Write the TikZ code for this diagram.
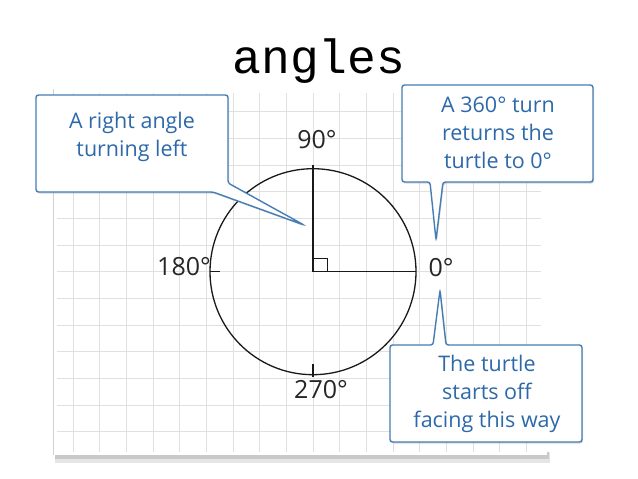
\documentclass[tikz,border=0pt]{standalone}
\usepackage{fontspec}
\setmainfont{Open Sans}
\newfontfamily\titlefont{Liberation Mono}
\newfontfamily\handfont{Open Sans}
\usetikzlibrary{shadows}
\definecolor{calloutblue}{RGB}{70,125,180}
\definecolor{textblue}{RGB}{45,105,170}
\definecolor{gridgray}{RGB}{224,224,224}
\tikzset{
  callout/.style={fill=white, draw=calloutblue, line width=1.4pt, rounded corners=2.5pt,
    drop shadow={opacity=0.3, shadow xshift=1pt, shadow yshift=-1.5pt}},
  callouttext/.style={text=textblue, align=center, font=\handfont\fontsize{21.5}{28}\selectfont},
  degree/.style={font=\handfont\fontsize{25}{28}\selectfont, text=black!85, inner sep=0pt},
  pen/.style={line width=1.3pt, black!90},
  gridline/.style={gridgray, line width=0.7pt},
}
\begin{document}
\begin{tikzpicture}[x=1pt,y=-1pt]
\useasboundingbox (0,0) rectangle (638,479);
\fill[white] (0,0) rectangle (638,479);
% title
\node[font=\titlefont\fontsize{48}{48}\selectfont, anchor=base] (title) at (319,73) {angles};
% paper shadow and sheet
\fill[black, opacity=0.10] (55,452) rectangle (550,463);
\fill[black, opacity=0.12] (55,452) rectangle (549,459);
\fill[white] (53,89) rectangle (547,455);
\draw[black!18, line width=0.8pt] (53.5,89) -- (53.5,455);
\foreach \k in {-9,...,8} {
  \draw[gridline] ({313+26.667*\k},93) -- ({313+26.667*\k},452);
}
\foreach \k in {-6,...,6} {
  \draw[gridline] (57,{271.7+26.667*\k}) -- (541,{271.7+26.667*\k});
}
% circle drawing
\coordinate (c) at (313,271.7);
\coordinate (top) at (313,165);
\coordinate (right) at (416,271.7);
\draw[pen] (c) circle[radius=103];
\draw[pen] (c) -- (top);
\draw[pen] (c) -- (right);
\draw[pen, line width=1pt] (313,258) rectangle (327,271.7);
\coordinate (tl1) at (210,271.7);
\coordinate (tl2) at (220,271.7);
\draw[pen] (tl1) -- (tl2);
\coordinate (tb1) at (313,364);
\coordinate (tb2) at (313,377);
\draw[pen] (tb1) -- (tb2);
% degree labels
\node[degree] (d90) at (317,140) {90°};
\node[degree] (d180) at (184,267) {180°};
\node[degree] (d0) at (441,268) {0°};
\node[degree] (d270) at (321,390) {270°};
% callouts
\draw[callout] (36,95) -- (228,95) -- (228,183) -- (304,225) -- (213,192) -- (36,192) -- cycle;
\node[callouttext] (c1) at (132,137) {A right angle\\turning left};
\draw[callout] (402,85) -- (593,85) -- (593,182) -- (443,182) -- (436,240) -- (430,182) -- (402,182) -- cycle;
\node[callouttext] (c2) at (498,133) {A 360° turn\\returns the\\turtle to 0°};
\draw[callout] (390,345) -- (433,345) -- (440,290) -- (446,345) -- (582,345) -- (582,442) -- (390,442) -- cycle;
\node[callouttext] (c3) at (487,394) {The turtle\\starts off\\facing this way};
\end{tikzpicture}
\end{document}
